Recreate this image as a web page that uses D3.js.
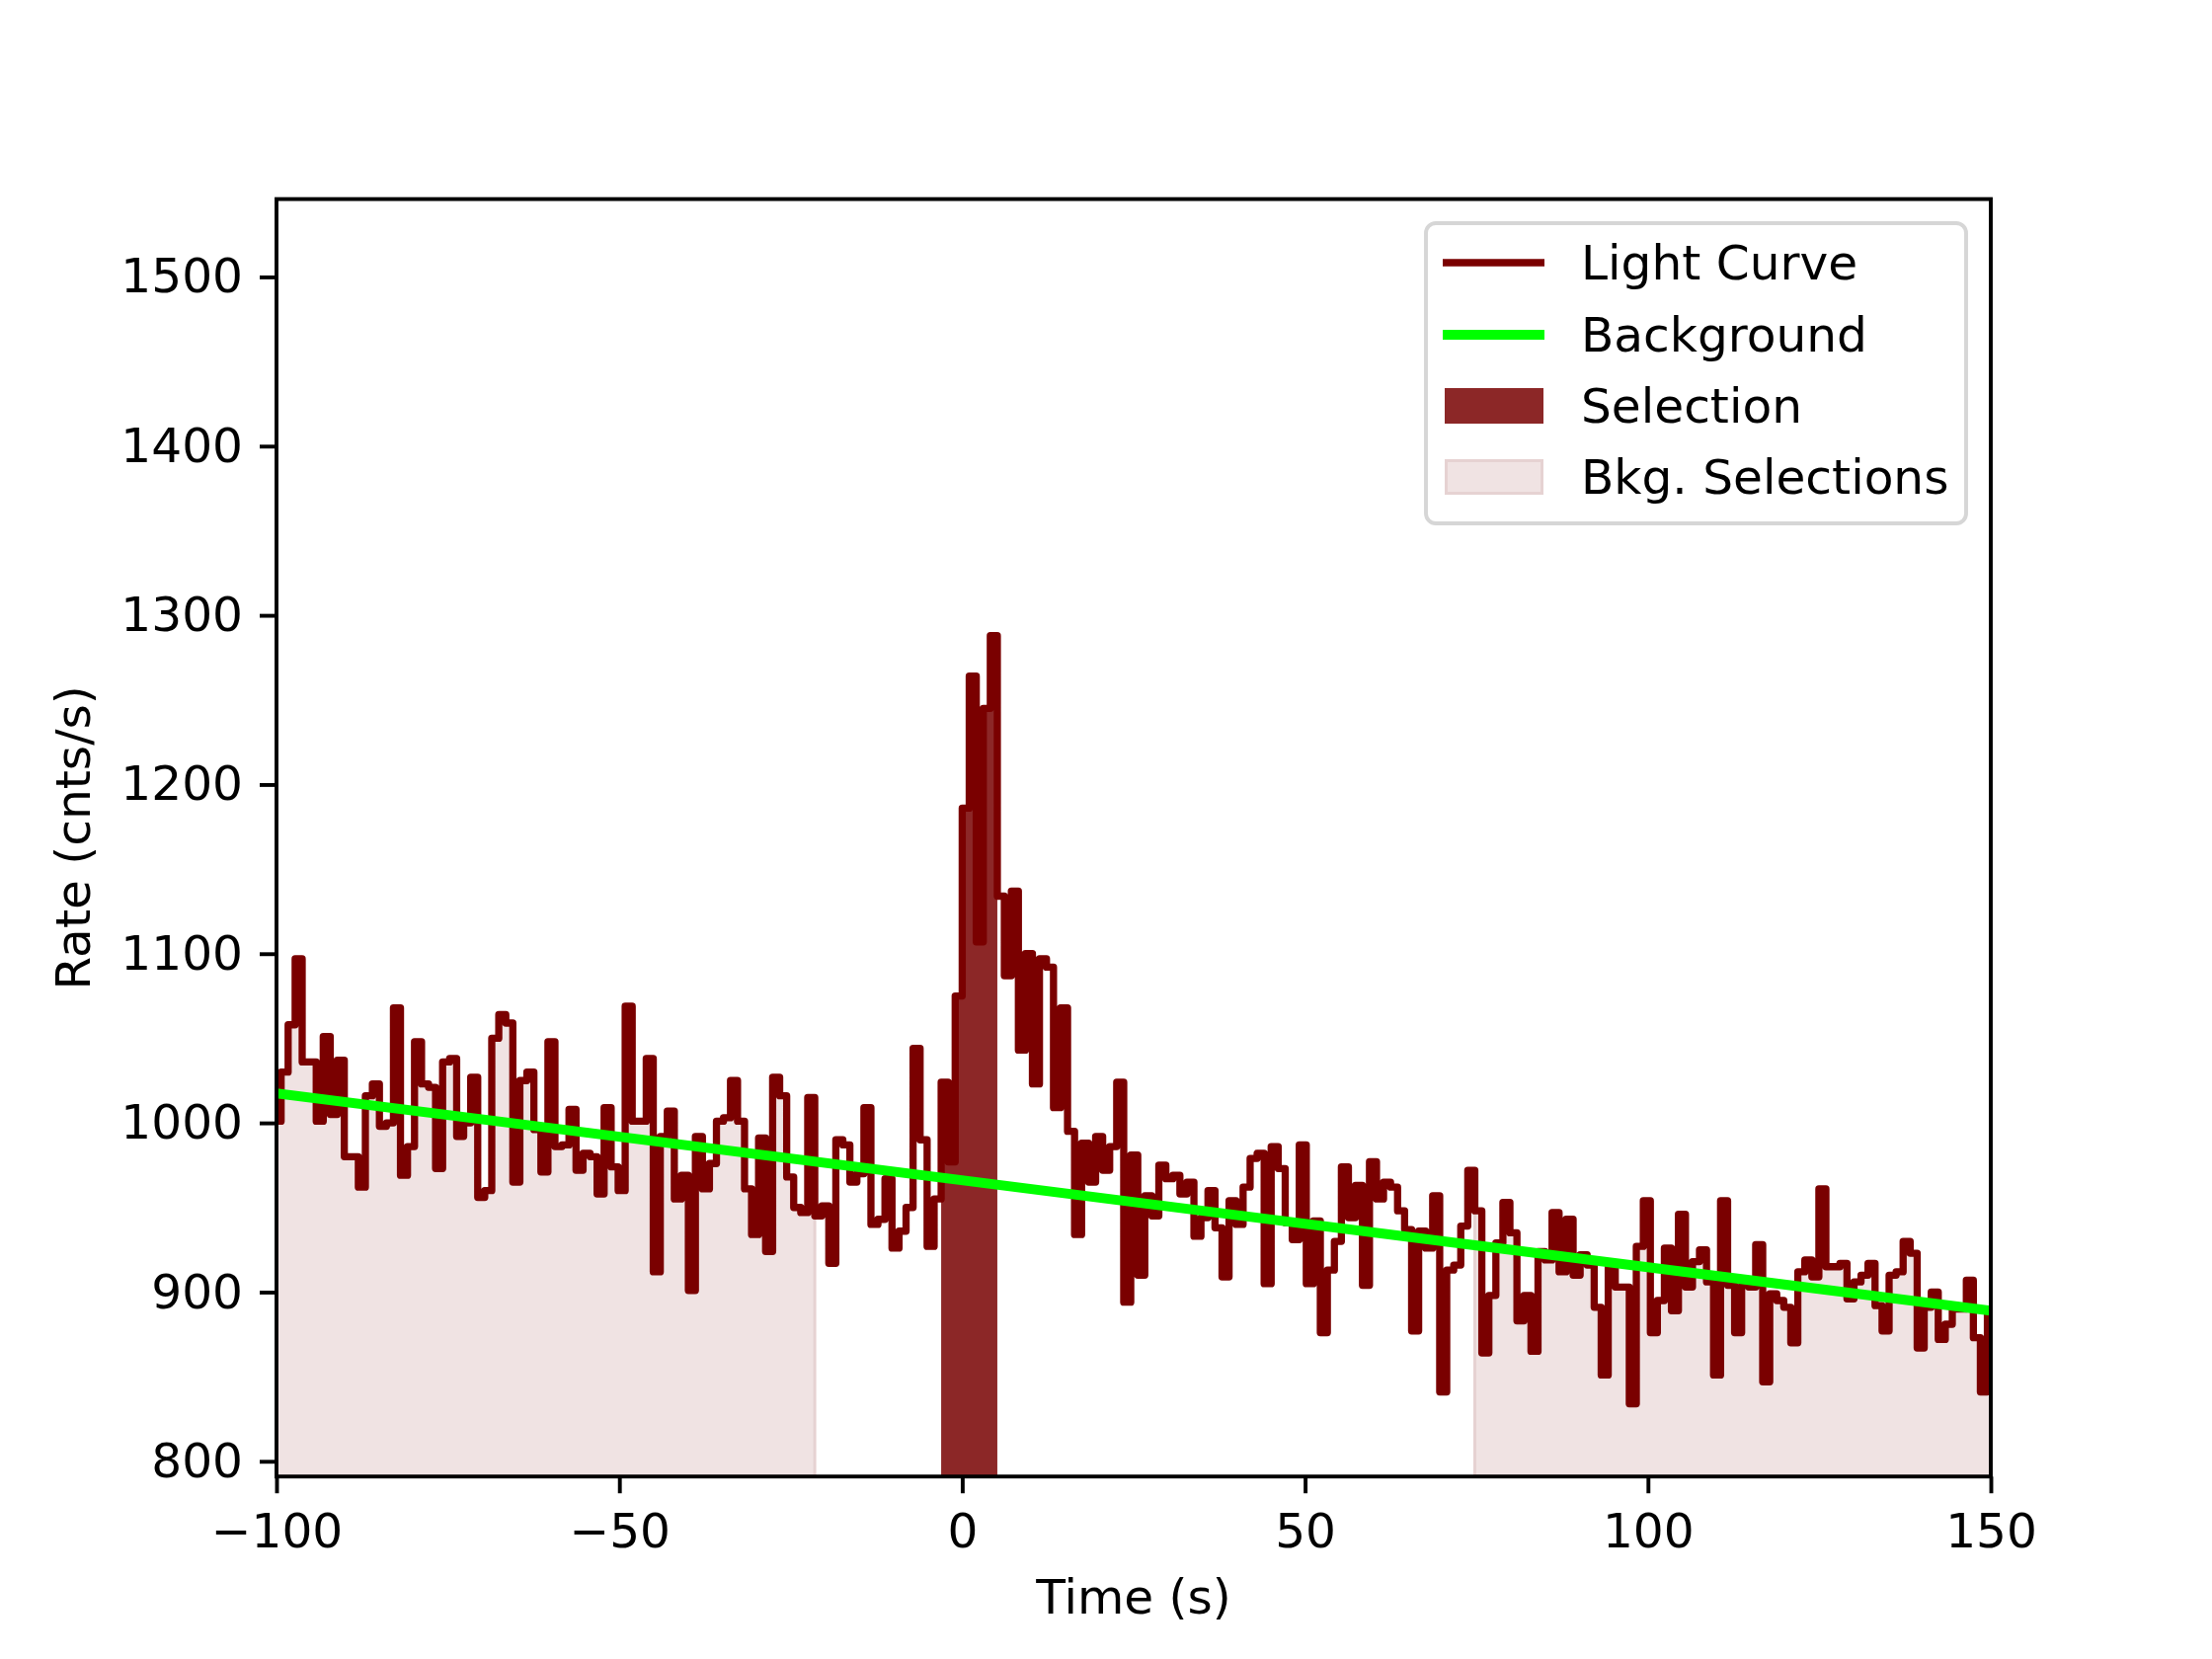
<!DOCTYPE html>
<html>
<head>
<meta charset="utf-8">
<script src="https://cdn.jsdelivr.net/npm/d3@7"></script>
<style>
  body { margin: 0; background: #ffffff; }
  text { font-family: "DejaVu Sans", sans-serif; fill: #000; }
</style>
</head>
<body>
<div id="chart"></div>
<script>
var svgWidth = 2240;
var svgHeight = 1680;

var margin = {
    top: 201.6,
    right: 224,
    bottom: 184.8,
    left: 280
};

var width = svgWidth - margin.left - margin.right;
var height = svgHeight - margin.top - margin.bottom;

// light curve, 1.024 s bins, first bin index -98 (bin k starts at k * binWidth)
var binWidth = 1.024;
var firstBin = -98;
var rates = [
    1001, 1030, 1058, 1097, 1036, 1036, 1001, 1051, 1005, 1037,
    980, 980, 962, 1016, 1023, 998, 1000, 1068, 969, 986,
    1048, 1023, 1021, 973, 1036, 1038, 992, 1000, 1027, 956,
    960, 1050, 1064, 1059, 965, 1025, 1030, 996, 971, 1048,
    986,
    987, 1008, 972, 982, 980, 958, 1009, 974, 960, 1069,
    1001, 1001, 1038, 912, 992, 1007, 955, 969, 901, 992,
    961, 976, 1001, 1003, 1025, 1001, 961, 934, 991, 924,
    1027, 1016, 968, 950, 947, 1015, 945, 951, 917,
    990, 987, 965, 970, 1009, 940, 943, 967, 926, 936,
    950, 1044, 990, 927, 955,
    1024, 977, 1075, 1186, 1264, 1107, 1245, 1288, 1134,
    1087, 1137, 1043, 1100, 1023, 1097, 1092, 1009, 1068, 995,
    934, 988, 965, 992, 972, 986, 1024,
    894, 981, 910, 957, 945, 975, 967, 969, 958, 965,
    933, 944, 960, 938, 909, 954, 940, 962, 979, 982,
    905, 986, 973, 941, 931, 987, 905, 942, 876, 913,
    930, 974, 944, 963, 904, 977, 955, 965, 962,
    948, 937, 877, 936, 926, 957, 841, 913, 916, 939,
    972, 948, 864, 898, 929, 953, 935, 883, 898, 865,
    924, 919, 947, 912, 943, 910, 922, 916, 891, 851,
    915, 903, 903, 834, 927, 954, 876, 895, 926, 889,
    946, 903,
    918, 925, 906, 851, 954, 904, 876, 904, 903, 928,
    847, 899, 895, 891, 870, 912, 919, 909, 961, 915,
    915, 917, 896, 906, 910, 917, 892, 877, 910, 912,
    930, 923, 867, 891, 900, 872, 881, 890, 890, 907,
    873, 841, 887
];

// selections (s)
var selection = [-3.072, 5.12];
var bkgSelections = [[-100.352, -21.504], [74.752, 150.528]];

// background fit
var bkgTimes = [-100, 150];
var bkgRates = [1017.5, 889];

var xTicks = [-100, -50, 0, 50, 100, 150];
var xTickLabels = ["\u2212100", "\u221250", "0", "50", "100", "150"];
var yTicks = [800, 900, 1000, 1100, 1200, 1300, 1400, 1500];

var legendLabels = ["Light Curve", "Background", "Selection", "Bkg. Selections"];

var lcColor = "#7a0000";
var bkgColor = "#00ff00";
var selColor = "#8c2727";
var bkgSelColor = "#f0e3e3";
var bkgSelEdge = "#e6d2d2";

var svg = d3.select("#chart")
    .append("svg")
    .attr("width", svgWidth)
    .attr("height", svgHeight);

var chartGroup = svg.append("g")
    .attr("transform", `translate(${margin.left}, ${margin.top})`);

var x = d3.scaleLinear().domain([-100, 150]).range([0, width]);
var y = d3.scaleLinear().domain([791, 1546]).range([height, 0]);

chartGroup.append("clipPath")
    .attr("id", "plotClip")
    .append("rect")
    .attr("width", width)
    .attr("height", height);

// bins -> points for a post step
var bins = rates.map((r, i) => ({t0: (firstBin + i) * binWidth, t1: (firstBin + i + 1) * binWidth, r: r}));
function stepPoints(list) {
    var pts = list.map(d => [d.t0, d.r]);
    var last = list[list.length - 1];
    pts.push([last.t1, last.r]);
    return pts;
}

var plot = chartGroup.append("g").attr("clip-path", "url(#plotClip)");

var area = d3.area()
    .curve(d3.curveStepAfter)
    .x(d => x(d[0]))
    .y0(height)
    .y1(d => y(d[1]));

var line = d3.line()
    .curve(d3.curveStepAfter)
    .x(d => x(d[0]))
    .y(d => y(d[1]));

// background selections
bkgSelections.forEach(function(s) {
    var sub = bins.filter(d => d.t0 >= s[0] - 1e-6 && d.t1 <= s[1] + 1e-6);
    plot.append("path")
        .attr("d", area(stepPoints(sub)))
        .attr("fill", bkgSelColor)
        .attr("stroke", bkgSelEdge)
        .attr("stroke-width", 3);
});

// source selection
var selBins = bins.filter(d => d.t0 >= selection[0] - 1e-6 && d.t1 <= selection[1] + 1e-6);
plot.append("path")
    .attr("d", area(stepPoints(selBins)))
    .attr("fill", selColor);

// light curve
plot.append("path")
    .attr("d", line(stepPoints(bins)))
    .attr("fill", "none")
    .attr("stroke", lcColor)
    .attr("stroke-width", 7.3)
    .attr("stroke-linejoin", "round")
    .attr("stroke-linecap", "round");

// background model
plot.append("path")
    .datum(bkgTimes.map((t, i) => [t, bkgRates[i]]))
    .attr("d", d3.line().x(d => x(d[0])).y(d => y(d[1])))
    .attr("fill", "none")
    .attr("stroke", bkgColor)
    .attr("stroke-width", 10);

// axes
var bottomAxis = d3.axisBottom(x)
    .tickValues(xTicks)
    .tickFormat((d, i) => xTickLabels[i])
    .tickSize(17)
    .tickPadding(17);
var leftAxis = d3.axisLeft(y)
    .tickValues(yTicks)
    .tickFormat(d3.format("d"))
    .tickSize(17)
    .tickPadding(17);

var gx = chartGroup.append("g")
    .attr("transform", `translate(0, ${height})`)
    .call(bottomAxis);
var gy = chartGroup.append("g")
    .call(leftAxis);

[gx, gy].forEach(function(g) {
    g.select(".domain").remove();
    g.selectAll(".tick line").attr("stroke", "#000").attr("stroke-width", 3.9);
    g.selectAll(".tick text")
        .attr("font-size", "48.6px")
        .attr("font-family", "DejaVu Sans, sans-serif")
        .attr("fill", "#000");
});
gx.selectAll(".tick text").attr("dy", "0.78em");

// spines
chartGroup.append("rect")
    .attr("width", width)
    .attr("height", height)
    .attr("fill", "none")
    .attr("stroke", "#000")
    .attr("stroke-width", 3.9);

// axis labels
chartGroup.append("text")
    .attr("x", width / 2)
    .attr("y", height + 139)
    .attr("text-anchor", "middle")
    .attr("font-size", "48.6px")
    .text("Time (s)");

chartGroup.append("text")
    .attr("transform", `translate(${91 - margin.left}, ${height / 2}) rotate(-90)`)
    .attr("text-anchor", "middle")
    .attr("font-size", "48.6px")
    .text("Rate (cnts/s)");

// legend
var legend = svg.append("g").attr("transform", "translate(1444, 226)");
legend.append("rect")
    .attr("width", 547)
    .attr("height", 304)
    .attr("rx", 10)
    .attr("fill", "#fff")
    .attr("stroke", "#d6d6d6")
    .attr("stroke-width", 3.9);

var rowY = [40, 113, 185, 257];
legend.append("line")
    .attr("x1", 17).attr("x2", 120)
    .attr("y1", rowY[0]).attr("y2", rowY[0])
    .attr("stroke", lcColor).attr("stroke-width", 7.3);
legend.append("line")
    .attr("x1", 17).attr("x2", 120)
    .attr("y1", rowY[1]).attr("y2", rowY[1])
    .attr("stroke", bkgColor).attr("stroke-width", 10);
legend.append("rect")
    .attr("x", 19).attr("y", rowY[2] - 18)
    .attr("width", 100).attr("height", 36)
    .attr("fill", selColor);
legend.append("rect")
    .attr("x", 20.5).attr("y", rowY[3] - 16.5)
    .attr("width", 97).attr("height", 33)
    .attr("fill", bkgSelColor)
    .attr("stroke", bkgSelEdge)
    .attr("stroke-width", 3);

legend.selectAll("text.lab")
    .data(legendLabels)
    .enter()
    .append("text")
    .attr("class", "lab")
    .attr("x", 157)
    .attr("y", (d, i) => rowY[i])
    .attr("dy", "0.36em")
    .attr("font-size", "48.6px")
    .text(d => d);
</script>
</body>
</html>
